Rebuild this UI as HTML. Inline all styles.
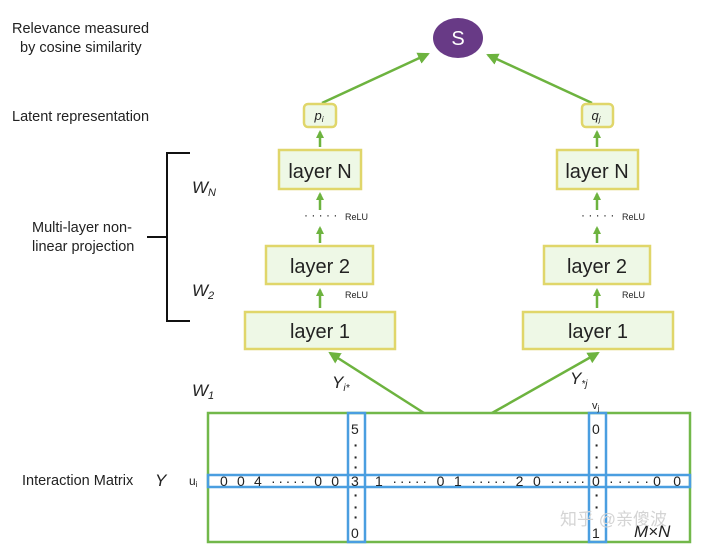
<!DOCTYPE html>
<html><head><style>
body{margin:0;background:#fff;width:712px;height:550px;overflow:hidden}
svg text{font-family:"Liberation Sans",sans-serif;fill:#222}
</style></head><body>
<svg width="712" height="550" viewBox="0 0 712 550" xmlns="http://www.w3.org/2000/svg">
<defs>
<marker id="ah" markerWidth="8" markerHeight="8" refX="6" refY="4" orient="auto" markerUnits="userSpaceOnUse"><path d="M0,0 L8,4 L0,8 z" fill="#6db33f"/></marker>
<marker id="as" markerWidth="12" markerHeight="12" refX="10" refY="6" orient="auto" markerUnits="userSpaceOnUse"><path d="M0,0 L12,6 L0,12 z" fill="#6db33f"/></marker>
</defs>
<g font-size="14.5">
<text x="12" y="33">Relevance measured</text>
<text x="20" y="52">by cosine similarity</text>
<text x="12" y="121">Latent representation</text>
<text x="32" y="232">Multi-layer non-</text>
<text x="32" y="251">linear projection</text>
<text x="22" y="485">Interaction Matrix</text>
</g>
<g font-size="17" font-style="italic">
<text x="192" y="193">W<tspan font-size="11" dy="3">N</tspan></text>
<text x="192" y="296">W<tspan font-size="11" dy="3">2</tspan></text>
<text x="192" y="396">W<tspan font-size="11" dy="3">1</tspan></text>
<text x="155" y="486">Y</text>
<text x="332" y="388">Y<tspan font-size="10" dy="3">i*</tspan></text>
<text x="570" y="384">Y<tspan font-size="10" dy="3">*j</tspan></text>
<text x="634" y="537">M×N</text>
</g>
<path d="M190,153 H167 V321 H190 M147,237 H167" stroke="#111" stroke-width="2" fill="none"/>
<ellipse cx="458" cy="38" rx="25" ry="20" fill="#683a86"/>
<text x="458" y="45" font-size="20" text-anchor="middle" style="fill:#fff">S</text>
<g stroke="#6db33f" stroke-width="2.5" fill="none">
<line x1="322" y1="103" x2="428" y2="54" marker-end="url(#as)"/>
<line x1="592" y1="103" x2="488" y2="55" marker-end="url(#as)"/>
<line x1="424" y1="413" x2="330" y2="353" marker-end="url(#as)"/>
<line x1="492" y1="413" x2="598" y2="353" marker-end="url(#as)"/>
</g>
<g stroke="#6db33f" stroke-width="2.5">
<line x1="320" y1="147" x2="320" y2="132" marker-end="url(#ah)"/>
<line x1="320" y1="210" x2="320" y2="194" marker-end="url(#ah)"/>
<line x1="320" y1="243" x2="320" y2="228" marker-end="url(#ah)"/>
<line x1="320" y1="308" x2="320" y2="290" marker-end="url(#ah)"/>
<line x1="597" y1="147" x2="597" y2="132" marker-end="url(#ah)"/>
<line x1="597" y1="210" x2="597" y2="194" marker-end="url(#ah)"/>
<line x1="597" y1="243" x2="597" y2="228" marker-end="url(#ah)"/>
<line x1="597" y1="308" x2="597" y2="290" marker-end="url(#ah)"/>
</g>
<g fill="#eef8e6" stroke="#e0d66a" stroke-width="2.5">
<rect x="304" y="104" width="32" height="23" rx="4"/>
<rect x="582" y="104" width="31" height="23" rx="4"/>
<rect x="279" y="150" width="82" height="39"/>
<rect x="557" y="150" width="81" height="39"/>
<rect x="266" y="246" width="107" height="38"/>
<rect x="544" y="246" width="106" height="38"/>
<rect x="245" y="312" width="150" height="37"/>
<rect x="523" y="312" width="150" height="37"/>
</g>
<g font-size="20" text-anchor="middle">
<text x="320" y="178">layer N</text>
<text x="597" y="178">layer N</text>
<text x="320" y="273">layer 2</text>
<text x="597" y="273">layer 2</text>
<text x="320" y="338">layer 1</text>
<text x="598" y="338">layer 1</text>
</g>
<g font-size="13" font-style="italic" text-anchor="middle">
<text x="319" y="120">p<tspan font-size="8" dy="2">i</tspan></text>
<text x="596" y="120">q<tspan font-size="8" dy="2">j</tspan></text>
</g>
<g font-size="9"><text x="345" y="220">ReLU</text><text x="345" y="298">ReLU</text><text x="622" y="220">ReLU</text><text x="622" y="298">ReLU</text></g>
<g font-size="12"><text x="304" y="219">· · · · ·</text><text x="581" y="219">· · · · ·</text></g>
<rect x="208" y="413" width="482" height="129" fill="none" stroke="#72b84a" stroke-width="2.5"/>
<g fill="none" stroke="#4a9ee0" stroke-width="2.5">
<rect x="348" y="413" width="17" height="129"/>
<rect x="589" y="413" width="17" height="129"/>
<rect x="208" y="475" width="482" height="12"/>
</g>
<text x="592" y="409" font-size="11">v<tspan font-size="8" dy="2">j</tspan></text>
<text x="189" y="485" font-size="12">u<tspan font-size="8" dy="2">i</tspan></text>
<g font-size="14">
<text x="220" y="486" textLength="119" lengthAdjust="spacing">0 0 4 ····· 0 0</text>
<text x="351" y="486">3</text>
<text x="375" y="486" textLength="210" lengthAdjust="spacing">1 ····· 0 1 ····· 2 0 ·····</text>
<text x="592" y="486">0</text>
<text x="609" y="486" textLength="72" lengthAdjust="spacing">·····0 0</text>
<text x="351" y="434">5</text><text x="592" y="434">0</text>
<text x="351" y="538">0</text><text x="592" y="538">1</text>
</g>
<g font-size="14" font-weight="bold" text-anchor="middle">
<text x="356" y="450">·</text><text x="356" y="462">·</text><text x="356" y="472">·</text>
<text x="356" y="500">·</text><text x="356" y="512">·</text><text x="356" y="522">·</text>
<text x="597" y="450">·</text><text x="597" y="462">·</text><text x="597" y="472">·</text>
<text x="597" y="500">·</text><text x="597" y="512">·</text>
</g>
<text x="560" y="525" font-size="17" style="fill:#d4d4d4;font-family:'Liberation Sans','Noto Sans CJK SC',sans-serif">知乎 @亲傻波</text>
</svg>
</body></html>
